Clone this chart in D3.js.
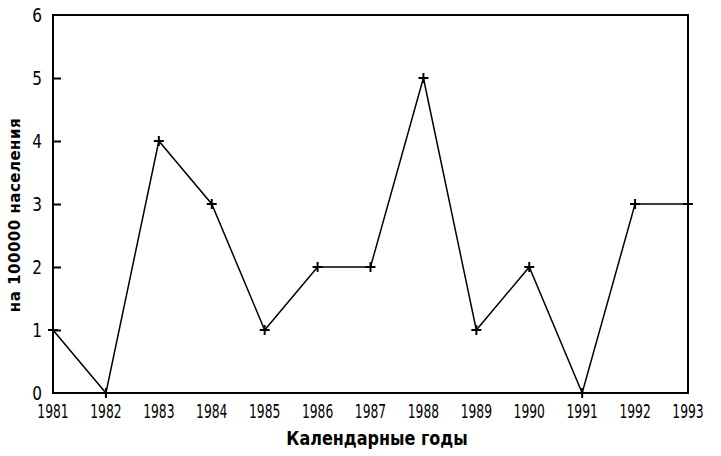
<!DOCTYPE html>
<html>
<head>
<meta charset="utf-8">
<script src="https://cdn.jsdelivr.net/npm/d3@7"></script>
<style>
  body { margin: 0; background: #fff; }
  text { fill: #000; }
</style>
</head>
<body>
<script>
// incidence per 100000 population by calendar year
var years = [1981, 1982, 1983, 1984, 1985, 1986, 1987, 1988, 1989, 1990, 1991, 1992, 1993];
var rates = [1, 0, 4, 3, 1, 2, 2, 5, 1, 2, 0, 3, 3];
var yTicks = [0, 1, 2, 3, 4, 5, 6];

var w = 721;
var h = 456;
var margin = {top: 15, right: 33, bottom: 63, left: 53};

var svg = d3.select("body").append("svg").attr("width", w).attr("height", h);

var x = d3.scaleLinear()
    .domain([1981, 1993])
    .range([margin.left, w - margin.right]);

var y = d3.scaleLinear()
    .domain([0, 6])
    .range([h - margin.bottom, margin.top]);

function squeeze(cx, k) {
  return "translate(" + cx + ",0) scale(" + k + ",1) translate(" + (-cx) + ",0)";
}

// frame
svg.append("rect")
    .attr("x", x(1981))
    .attr("y", y(6))
    .attr("width", x(1993) - x(1981))
    .attr("height", y(0) - y(6))
    .attr("fill", "none")
    .attr("stroke", "#000")
    .attr("stroke-width", 2);

// y axis, ticks inward
var yAxis = d3.axisRight(y)
    .tickValues(yTicks.slice(1, 6))
    .tickSize(8)
    .tickFormat("");
svg.append("g")
    .attr("transform", "translate(" + x(1981) + ",0)")
    .call(yAxis)
    .call(function(g) { g.select(".domain").remove(); })
    .selectAll("line").attr("stroke-width", 2);

svg.append("g").selectAll("text")
    .data(yTicks)
    .enter().append("text")
    .attr("x", 42)
    .attr("y", function(d) { return y(d); })
    .attr("dy", "0.36em")
    .attr("text-anchor", "end")
    .attr("transform", squeeze(42, 0.85))
    .style("font-family", "'DejaVu Sans Condensed', 'DejaVu Sans'")
    .style("font-size", "20px")
    .text(function(d) { return d; });

// x labels
svg.append("g").selectAll("text")
    .data(years)
    .enter().append("text")
    .attr("x", function(d) { return x(d); })
    .attr("y", 418)
    .attr("text-anchor", "middle")
    .attr("transform", function(d) { return squeeze(x(d), 0.72); })
    .style("font-family", "'DejaVu Sans Condensed', 'DejaVu Sans'")
    .style("font-size", "19px")
    .text(function(d) { return d; });

// line
var line = d3.line()
    .x(function(d, i) { return x(years[i]); })
    .y(function(d) { return y(d); });

svg.append("path")
    .datum(rates)
    .attr("d", line)
    .attr("fill", "none")
    .attr("stroke", "#000")
    .attr("stroke-width", 1.5);

// + markers
var marks = svg.append("g").selectAll("g")
    .data(rates)
    .enter().append("g")
    .attr("transform", function(d, i) { return "translate(" + x(years[i]) + "," + y(d) + ")"; });
marks.append("line").attr("x1", -5).attr("x2", 5).attr("stroke", "#000").attr("stroke-width", 2);
marks.append("line").attr("y1", -5).attr("y2", 5).attr("stroke", "#000").attr("stroke-width", 2);

// titles
svg.append("text")
    .attr("x", 377)
    .attr("y", 445)
    .attr("text-anchor", "middle")
    .attr("transform", squeeze(377, 0.8))
    .style("font-family", "'DejaVu Sans'")
    .style("font-weight", "bold")
    .style("font-size", "20px")
    .text("Календарные годы");

svg.append("text")
    .attr("transform", "translate(20," + 215 + ") rotate(-90)")
    .attr("text-anchor", "middle")
    .style("font-family", "'DejaVu Sans'")
    .style("font-weight", "bold")
    .style("font-size", "15px")
    .style("letter-spacing", "0.5px")
    .text("на 100000 населения");
</script>
</body>
</html>
